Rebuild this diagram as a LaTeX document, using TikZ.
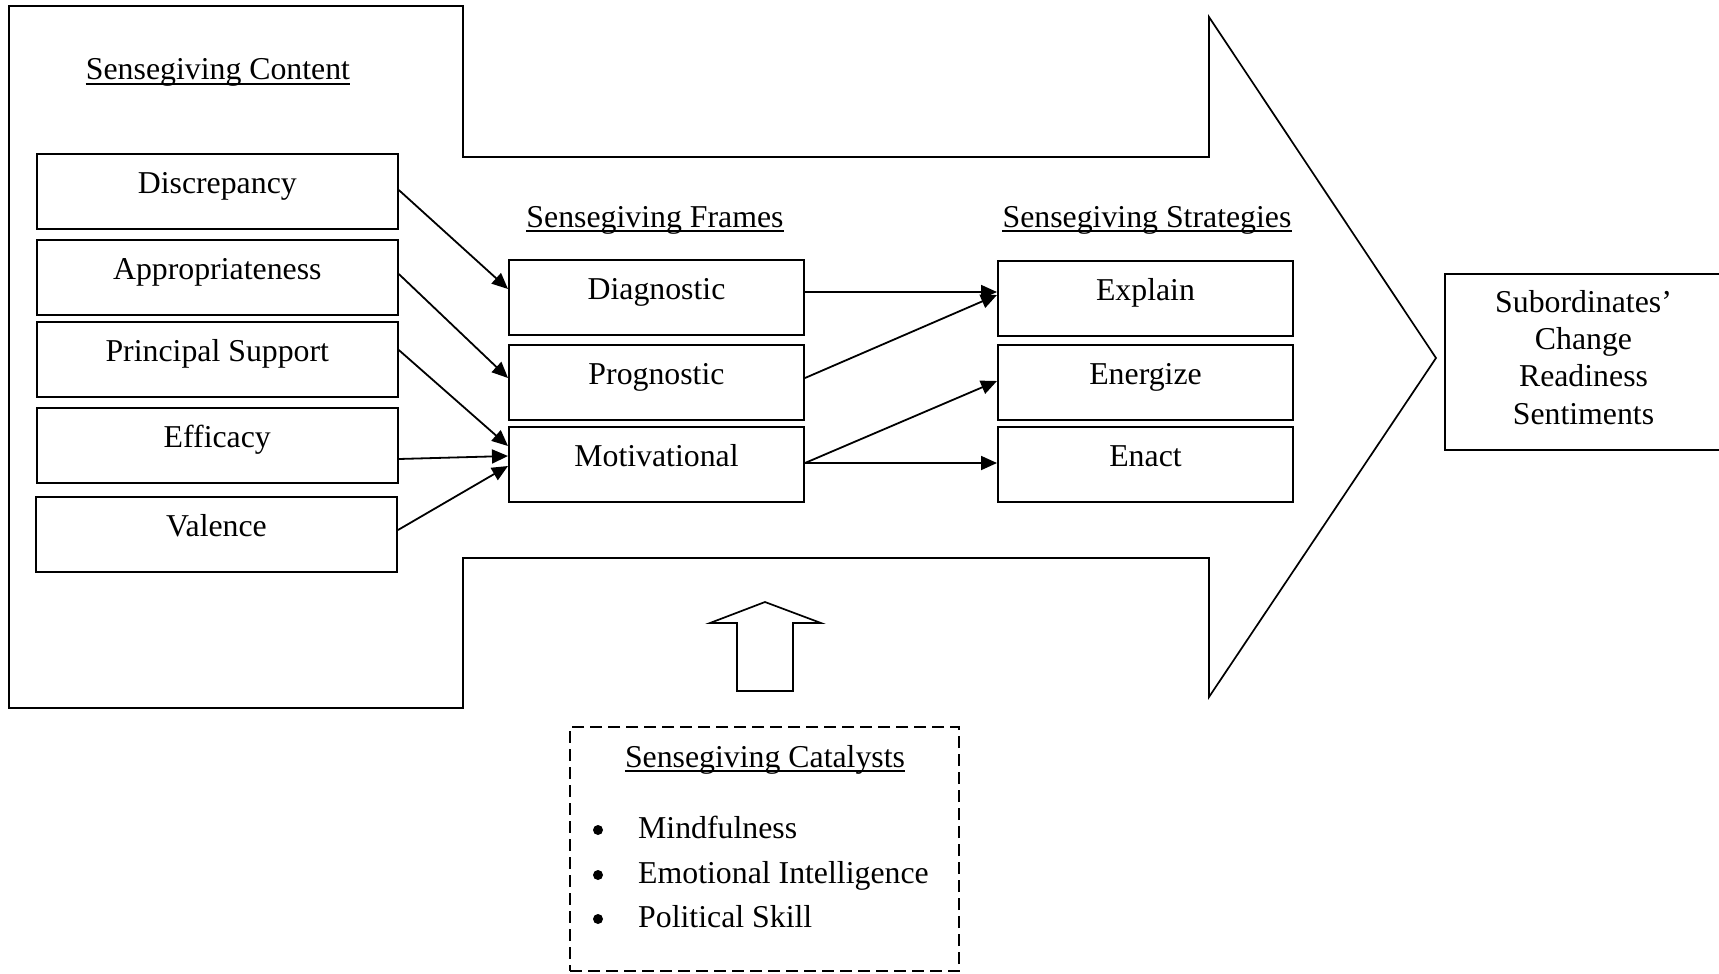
\documentclass[tikz,border=0pt]{standalone}
\usepackage{fontspec}
\setmainfont{Liberation Serif}
\usetikzlibrary{arrows.meta,calc}
\begin{document}
\begin{tikzpicture}[x=1pt,y=-1pt,
  every node/.style={font=\fontsize{31.8pt}{37pt}\selectfont},
  box/.style={draw, line width=2pt, inner sep=0pt, text height=39pt, text depth=36pt, anchor=north},
  lbox/.style={box, minimum width=361pt},
  mbox/.style={box, minimum width=295pt},
  title/.style={inner sep=0pt, anchor=base},
  conn/.style={line width=1.8pt, -{Triangle[length=16pt,width=14pt]}},
  uline/.style={line width=1.6pt},
  outline/.style={line width=1.7pt, line join=miter},
  item/.style={inner sep=0pt, anchor=base west}
]
\useasboundingbox (0,0) rectangle (1719,974);

% big arrow
\draw[outline] (9,6) -- (463,6) -- (463,157) -- (1209,157) -- (1209,17) -- (1436,358)
  -- (1209,697) -- (1209,558) -- (463,558) -- (463,708) -- (9,708) -- cycle;

% titles
\node[title] (tc) at (218,80) {Sensegiving Content};
\node[title] (tf) at (655,227) {Sensegiving Frames};
\node[title] (ts) at (1147,227) {Sensegiving Strategies};
\foreach \t in {tc,tf,ts}
  \draw[uline] ($(\t.base west)+(0,4)$) -- ($(\t.base east)+(0,4)$);

% content boxes
\node[lbox] (disc) at (217.3,153) {Discrepancy};
\node[lbox] (appr) at (217.3,239) {Appropriateness};
\node[lbox] (prin) at (217.3,321) {Principal Support};
\node[lbox] (effi) at (217.3,407) {Efficacy};
\node[lbox] (vale) at (216.5,496) {Valence};

% frames
\node[mbox] (diag) at (656.5,259) {Diagnostic};
\node[mbox] (prog) at (656.5,344) {Prognostic};
\node[mbox] (moti) at (656.5,426) {Motivational};

% strategies
\node[mbox] (expl) at (1145.5,260) {Explain};
\node[mbox] (ener) at (1145.5,344) {Energize};
\node[mbox] (enac) at (1145.5,426) {Enact};

% outcome
\node[draw, line width=2pt, inner sep=0pt, minimum width=277pt, text height=150pt, text depth=26pt,
      align=center, anchor=north, font=\fontsize{31.8pt}{37.3pt}\selectfont]
  (sub) at (1583.5,273) {Subordinates’\\Change\\Readiness\\Sentiments};

% connectors
\draw[conn] ($(disc.east)+(0,-1.5)$) -- ($(diag.west)+(0,-8.5)$);
\draw[conn] ($(appr.east)+(0,-3.5)$) -- ($(prog.west)+(0,-4.5)$);
\draw[conn] ($(prin.east)+(0,-9.5)$) -- ($(moti.west)+(0,-18.5)$);
\draw[conn] ($(effi.east)+(0,13.5)$) -- ($(moti.west)+(0,-8.5)$);
\draw[conn] ($(vale.east)+(0,-4.5)$) -- ($(moti.west)+(0,1.5)$);
\draw[conn] ($(diag.east)+(0,-5.5)$) -- ($(expl.west)+(0,-6.5)$);
\draw[conn] ($(prog.east)+(0,-4.5)$) -- ($(expl.west)+(0,-3.5)$);
\draw[conn] ($(moti.east)+(0,-1.5)$) -- ($(ener.west)+(0,-1.5)$);
\draw[conn] ($(moti.east)+(0,-1.5)$) -- ($(enac.west)+(0,-1.5)$);

% hollow up arrow
\draw[outline] (765,602) -- (821,623) -- (793,623) -- (793,691) -- (737,691) -- (737,623) -- (710,623) -- cycle;

% catalysts
\node[draw, line width=1.7pt, dash pattern=on 12pt off 6pt, inner sep=0pt,
      minimum width=389pt, minimum height=244pt] (cat) at (764.5,849) {};
\node[title] (tk) at (765,767) {Sensegiving Catalysts};
\draw[uline] ($(tk.base west)+(0,4)$) -- ($(tk.base east)+(0,4)$);
\node[item] (i1) at (638,838) {Mindfulness};
\node[item] (i2) at (638,883) {Emotional Intelligence};
\node[item] (i3) at (638,927) {Political Skill};
\foreach \y in {830,875,919} \fill (598,\y) circle (5pt);
\end{tikzpicture}
\end{document}
